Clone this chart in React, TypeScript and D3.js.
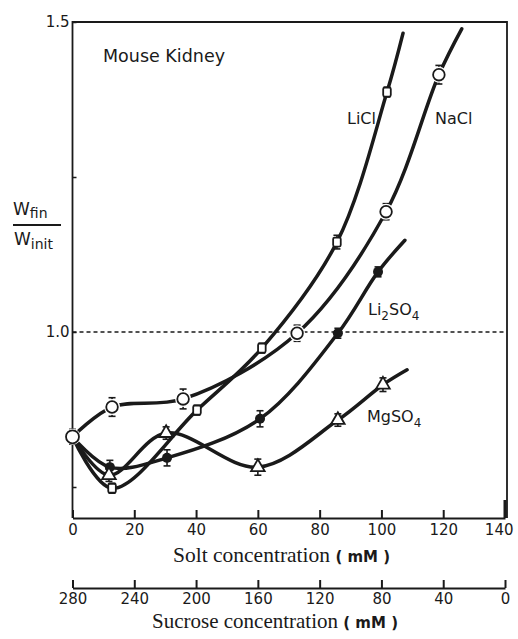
import { useRef, useEffect } from 'react'
import * as d3 from 'd3'

// salt concentration (mM) and W_fin / W_init
const naclX = [0, 12.8, 35.8, 72.7, 101.5, 118.6]
const naclY = [0.831, 0.879, 0.892, 0.998, 1.194, 1.415]
const naclErr = [0.012, 0.015, 0.016, 0.013, 0.013, 0.015]
const naclTail = [126, 1.489]

const liclX = [0, 12.8, 40.3, 61.3, 85.6, 101.8]
const liclY = [0.831, 0.748, 0.874, 0.974, 1.145, 1.387]
const liclErr = [0, 0.008, 0.008, 0.008, 0.011, 0.008]
const liclTail = [107, 1.482]

const li2so4X = [0, 12.1, 30.6, 60.7, 85.9, 98.9]
const li2so4Y = [0.831, 0.782, 0.797, 0.86, 0.998, 1.097]
const li2so4Err = [0, 0.011, 0.013, 0.013, 0.008, 0.008]
const li2so4Tail = [107.6, 1.148]

const mgso4X = [0, 11.8, 30.3, 60, 85.9, 100.5]
const mgso4Y = [0.831, 0.769, 0.837, 0.782, 0.858, 0.915]
const mgso4Err = [0, 0.01, 0.01, 0.013, 0.01, 0.011]
const mgso4Tail = [108.3, 0.939]

const saltTicks = [0, 20, 40, 60, 80, 100, 120, 140]
const sucroseTicks = [280, 240, 200, 160, 120, 80, 40, 0]
const yTicks = [0.75, 1.0, 1.25, 1.5]
const yLabelled = [1.0, 1.5]

type Marker = 'circle' | 'square' | 'dot' | 'triangle'

interface Series {
  xs: number[]
  ys: number[]
  err: number[]
  tail: number[]
  marker: Marker
  skipFirst: boolean
}

const series: Series[] = [
  { xs: liclX, ys: liclY, err: liclErr, tail: liclTail, marker: 'square', skipFirst: true },
  { xs: li2so4X, ys: li2so4Y, err: li2so4Err, tail: li2so4Tail, marker: 'dot', skipFirst: true },
  { xs: mgso4X, ys: mgso4Y, err: mgso4Err, tail: mgso4Tail, marker: 'triangle', skipFirst: true },
  { xs: naclX, ys: naclY, err: naclErr, tail: naclTail, marker: 'circle', skipFirst: false },
]

const INK = '#1a1a1a'
const SANS = '"DejaVu Sans", sans-serif'
const SERIF = '"Liberation Serif", "Times New Roman", serif'

export default function App() {
  const ref = useRef<SVGSVGElement>(null)

  useEffect(() => {
    if (!ref.current) return
    const svg = d3.select(ref.current)
    svg.selectAll('*').remove()

    const x = d3.scaleLinear().domain([0, 140]).range([72.5, 505])
    const y = d3.scaleLinear().domain([0.7, 1.5]).range([518, 22])
    const xs = d3.scaleLinear().domain([280, 0]).range([72.5, 505])

    // frame
    svg
      .append('path')
      .attr('d', `M${x(0)},${y(0.7)}V${y(1.5)}H${x(140) + 2}V${y(0.7)}`)
      .attr('fill', 'none')
      .attr('stroke', INK)
      .attr('stroke-width', 1.8)
    svg
      .append('line')
      .attr('x1', x(140))
      .attr('x2', x(140))
      .attr('y1', y(0.7) - 18)
      .attr('y2', y(0.7))
      .attr('stroke', INK)
      .attr('stroke-width', 3)

    // salt axis
    const gx = svg
      .append('g')
      .attr('transform', `translate(0,${y(0.7)})`)
      .call(d3.axisBottom(x).tickValues(saltTicks).tickSizeInner(-8).tickSizeOuter(0).tickPadding(6))
    gx.select('.domain').attr('stroke', INK).attr('stroke-width', 1.8)
    gx.selectAll('.tick line').attr('stroke', INK).attr('stroke-width', 2)
    gx.selectAll('.tick text')
      .attr('font-family', SANS)
      .attr('font-size', 15)
      .attr('fill', INK)
    // last label sits a little left of its tick, as in the original
    gx.selectAll<SVGTextElement, number>('.tick text')
      .filter((d) => d === 140)
      .attr('text-anchor', 'end')
      .attr('x', 8)

    // sucrose axis
    const gs = svg
      .append('g')
      .attr('transform', `translate(0,588)`)
      .call(d3.axisBottom(xs).tickValues(sucroseTicks).tickSizeInner(-8).tickSizeOuter(0).tickPadding(5))
    gs.select('.domain').attr('stroke', INK).attr('stroke-width', 1.8)
    gs.selectAll('.tick line').attr('stroke', INK).attr('stroke-width', 2)
    gs.selectAll('.tick text')
      .attr('font-family', SANS)
      .attr('font-size', 15)
      .attr('fill', INK)

    // y axis
    const gy = svg
      .append('g')
      .attr('transform', `translate(${x(0)},0)`)
      .call(
        d3
          .axisLeft(y)
          .tickValues(yTicks)
          .tickSizeInner(-4)
          .tickSizeOuter(0)
          .tickPadding(3)
          .tickFormat((d) => (yLabelled.includes(d as number) ? d3.format('.1f')(d as number) : ''))
      )
    gy.select('.domain').remove()
    gy.selectAll('.tick line').attr('stroke', INK).attr('stroke-width', 1.5)
    gy.selectAll('.tick text')
      .attr('font-family', SANS)
      .attr('font-size', 15)
      .attr('fill', INK)

    // reference line at 1.0
    svg
      .append('line')
      .attr('x1', x(0))
      .attr('x2', x(140))
      .attr('y1', y(1))
      .attr('y2', y(1))
      .attr('stroke', INK)
      .attr('stroke-width', 1.3)
      .attr('stroke-dasharray', '4,3')

    const line = d3
      .line<[number, number]>()
      .x((d) => x(d[0]))
      .y((d) => y(d[1]))
      .curve(d3.curveCatmullRom.alpha(0.5))

    series.forEach((s) => {
      const pts: [number, number][] = s.xs.map((v, i) => [v, s.ys[i]])
      pts.push([s.tail[0], s.tail[1]])
      svg
        .append('path')
        .datum(pts)
        .attr('fill', 'none')
        .attr('stroke', INK)
        .attr('stroke-width', 3.5)
        .attr('stroke-linecap', 'round')
        .attr('d', line)
    })

    const tri = d3.symbol().type(d3.symbolTriangle).size(80)

    series.forEach((s) => {
      s.xs.forEach((v, i) => {
        if (i === 0 && s.skipFirst) return
        const cx = x(v)
        const cy = y(s.ys[i])
        const e = s.err[i]
        if (e > 0) {
          const g = svg.append('g').attr('stroke', INK).attr('stroke-width', 1.6)
          g.append('line').attr('x1', cx).attr('x2', cx).attr('y1', y(s.ys[i] + e)).attr('y2', y(s.ys[i] - e))
          g.append('line').attr('x1', cx - 3.5).attr('x2', cx + 3.5).attr('y1', y(s.ys[i] + e)).attr('y2', y(s.ys[i] + e))
          g.append('line').attr('x1', cx - 3.5).attr('x2', cx + 3.5).attr('y1', y(s.ys[i] - e)).attr('y2', y(s.ys[i] - e))
        }
        if (s.marker === 'circle') {
          svg.append('circle').attr('cx', cx).attr('cy', cy).attr('r', 8).attr('fill', 'white')
          svg
            .append('circle')
            .attr('cx', cx)
            .attr('cy', cy)
            .attr('r', i === 0 ? 6.5 : 5.8)
            .attr('fill', 'white')
            .attr('stroke', INK)
            .attr('stroke-width', 1.8)
        } else if (s.marker === 'square') {
          svg
            .append('rect')
            .attr('x', cx - 3.8)
            .attr('y', cy - 4.5)
            .attr('width', 7.6)
            .attr('height', 9)
            .attr('rx', 1.5)
            .attr('fill', 'white')
            .attr('stroke', INK)
            .attr('stroke-width', 1.8)
        } else if (s.marker === 'dot') {
          svg.append('circle').attr('cx', cx).attr('cy', cy).attr('r', 5).attr('fill', INK)
        } else {
          svg
            .append('path')
            .attr('d', tri)
            .attr('transform', `translate(${cx},${cy})`)
            .attr('fill', 'white')
            .attr('stroke', INK)
            .attr('stroke-width', 1.8)
        }
      })
    })

    // annotations
    const label = (tx: number, ty: number, size: number) =>
      svg
        .append('text')
        .attr('x', tx)
        .attr('y', ty)
        .attr('font-family', SANS)
        .attr('font-size', size)
        .attr('fill', INK)

    label(103, 62, 17.5).text('Mouse Kidney')
    label(347, 124, 16).text('LiCl')
    label(435, 124, 16).text('NaCl')

    const li = label(368, 315, 16)
    li.append('tspan').text('Li')
    li.append('tspan').attr('dy', 5).attr('font-size', 12).text('2')
    li.append('tspan').attr('dy', -5).text('SO')
    li.append('tspan').attr('dy', 5).attr('font-size', 12).text('4')

    const mg = label(367, 422, 16)
    mg.append('tspan').text('MgSO')
    mg.append('tspan').attr('dy', 5).attr('font-size', 12).text('4')

    // y label as fraction
    const wf = label(13, 215, 17)
    wf.append('tspan').text('W')
    wf.append('tspan').attr('dy', 3).attr('font-size', 14).text('fin')
    svg.append('line').attr('x1', 13).attr('x2', 61).attr('y1', 225).attr('y2', 225).attr('stroke', INK).attr('stroke-width', 1.8)
    const wi = label(14, 245, 17)
    wi.append('tspan').text('W')
    wi.append('tspan').attr('dy', 4).attr('font-size', 14).text('init')

    // axis titles
    const t1 = svg.append('text').attr('x', 173).attr('y', 562).attr('fill', INK)
    t1.append('tspan').attr('font-family', SERIF).attr('font-size', 21.5).text('Solt concentration ')
    t1.append('tspan').attr('font-family', SANS).attr('font-size', 15).attr('font-weight', 'bold').text('( mM )')

    const t2 = svg.append('text').attr('x', 152).attr('y', 628).attr('fill', INK)
    t2.append('tspan').attr('font-family', SERIF).attr('font-size', 21).text('Sucrose concentration ')
    t2.append('tspan').attr('font-family', SANS).attr('font-size', 15).attr('font-weight', 'bold').text('( mM )')
  }, [])

  return (
    <svg
      ref={ref}
      width={518}
      height={639}
      style={{ position: 'absolute', left: 0, top: 0, background: 'white' }}
    />
  )
}
